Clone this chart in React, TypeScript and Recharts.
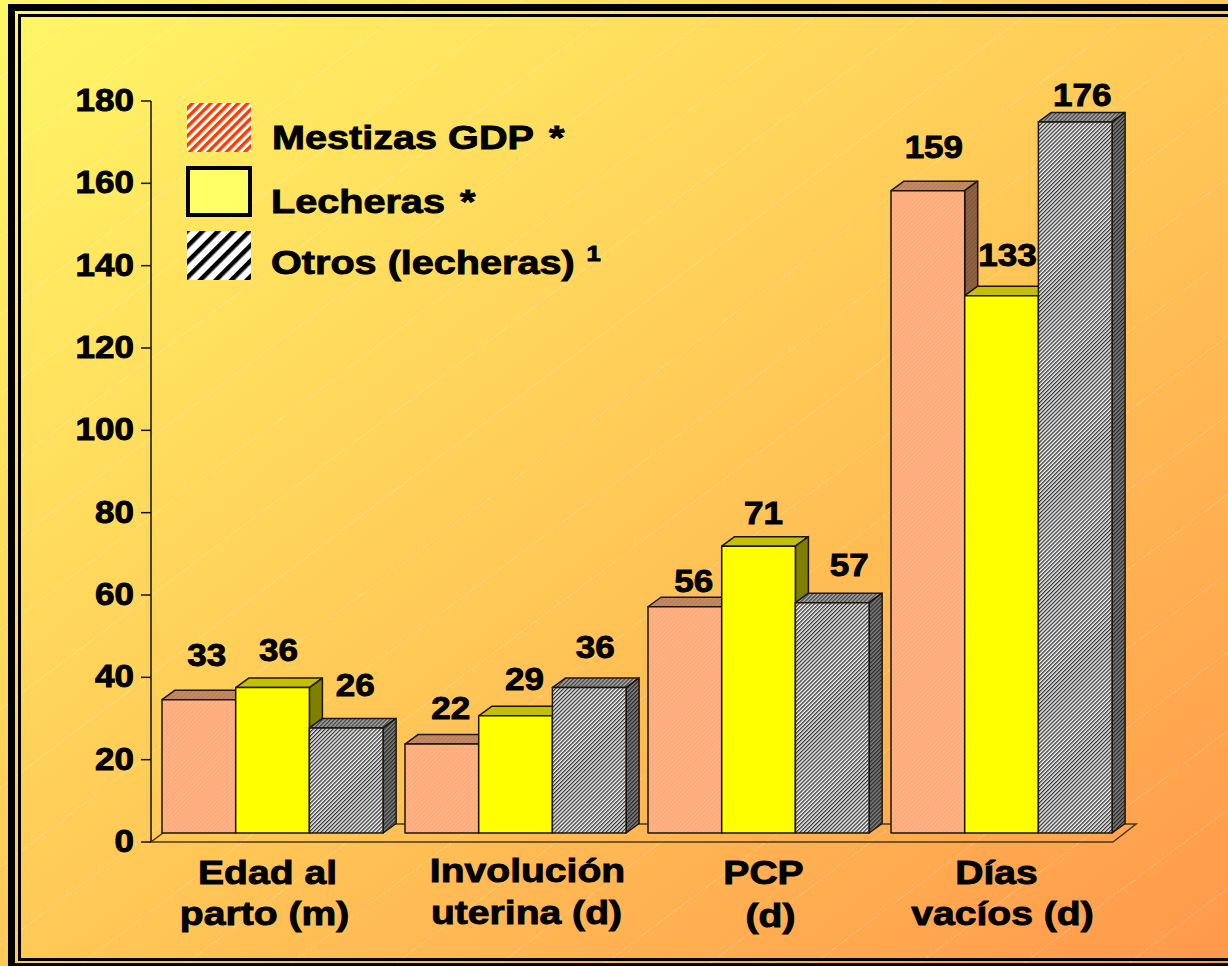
import { ComposedChart, Bar, Line, XAxis, YAxis, LabelList, Legend, ReferenceArea } from "recharts";

const CATEGORIES = ["Edad al parto (m)", "Involución uterina (d)", "PCP (d)", "Días vacíos (d)"];
const CATEGORY_LINES = [
  ["Edad al", "parto (m)"],
  ["Involución", "uterina (d)"],
  ["PCP", "(d)"],
  ["Días", "vacíos (d)"],
];
const MESTIZAS = [33, 22, 56, 159];
const LECHERAS = [36, 29, 71, 133];
const OTROS = [26, 36, 57, 176];
const Y_TICKS = [0, 20, 40, 60, 80, 100, 120, 140, 160, 180];

// hand placed text boxes in the original slide: [dx from center, dy from bar top / axis]
const MESTIZAS_LABEL_POS = [[8, -44], [9, -36], [9, -25], [6, -43]];
const LECHERAS_LABEL_POS = [[6, -37], [9, -36], [5, -33], [6, -40]];
const OTROS_LABEL_POS = [[9, -42], [6, -40], [17, -37], [7, -26]];
const CATEGORY_LINE_POS = [
  [[-5, 884], [-8, 925]],
  [[12, 882], [11, 924]],
  [[5, 884], [12, 927]],
  [[-5, 884], [1, 925]],
];

const data = CATEGORIES.map((name, i) => ({
  name,
  mestizas: MESTIZAS[i],
  lecheras: LECHERAS[i],
  otros: OTROS[i],
}));

const FONT = "'Liberation Sans', Arial, sans-serif";
const DEPTH_X = 13;
const DEPTH_Y = 9.5;
const OUTLINE = "#1c1608";

const WideText = ({ x, y, size, scale, anchor = "middle", children }: any) => (
  <text
    transform={`translate(${x},${y}) scale(${scale},1)`}
    fontFamily={FONT}
    fontWeight="bold"
    fontSize={size}
    fill="#000"
    stroke="#000"
    strokeWidth={0.9}
    textAnchor={anchor}
    style={{ whiteSpace: "pre" }}
  >
    {children}
  </text>
);

const box3d = (front: string, top: string, side: string) => (props: any) => {
  const { x, y, width, height } = props;
  const r = x + width;
  const b = y + height;
  return (
    <g stroke={OUTLINE} strokeWidth={1.5} strokeLinejoin="round">
      <polygon
        points={`${x},${y} ${x + DEPTH_X},${y - DEPTH_Y} ${r + DEPTH_X},${y - DEPTH_Y} ${r},${y}`}
        fill={top}
      />
      <polygon
        points={`${r},${y} ${r + DEPTH_X},${y - DEPTH_Y} ${r + DEPTH_X},${b - DEPTH_Y} ${r},${b}`}
        fill={side}
      />
      <rect x={x} y={y} width={width} height={height} fill={front} />
    </g>
  );
};

const valueLabel = (positions: number[][]) => (props: any) => {
  const { x, y, width, value, index } = props;
  const [dx, dy] = positions[index];
  return (
    <WideText x={x + width / 2 + dx} y={y + dy + 10.5} size={31} scale={1.13}>
      {value}
    </WideText>
  );
};

const YTick = ({ y, payload }: any) => (
  <WideText x={134} y={y + 10} size={31} scale={1.13} anchor="end">
    {payload.value}
  </WideText>
);

const XTick = ({ x, index }: any) => (
  <g>
    {CATEGORY_LINES[index].map((line, i) => (
      <WideText key={line} x={x + CATEGORY_LINE_POS[index][i][0]} y={CATEGORY_LINE_POS[index][i][1]} size={34} scale={1.15}>
        {line}
      </WideText>
    ))}
  </g>
);

const Floor = ({ x, y, width, height }: any) => (
  <polygon
    points={`${x},${y + height} ${x + width - 10},${y + height} ${x + width + 13},${y} ${x + 24},${y}`}
    fill="none"
    stroke="#4a3a14"
    strokeWidth={1.5}
  />
);

const LegendBox = () => (
  <svg width={460} height={200} style={{ display: "block" }}>
    <defs>
      <pattern id="legendRed" width={6.5} height={6.5} patternUnits="userSpaceOnUse" patternTransform="rotate(45)">
        <rect width={6.5} height={6.5} fill="#fff" />
        <rect width={3.4} height={6.5} fill="#ff3c00" />
      </pattern>
      <pattern id="legendBlack" width={11} height={11} patternUnits="userSpaceOnUse" patternTransform="rotate(45)">
        <rect width={11} height={11} fill="#fff" />
        <rect width={4.5} height={11} fill="#000" />
      </pattern>
    </defs>
    <rect x={7} y={8} width={64} height={49} fill="url(#legendRed)" />
    <rect x={8} y={73} width={62} height={47} fill="#ffff66" stroke="#000" strokeWidth={4} />
    <rect x={7} y={136} width={64} height={49} fill="url(#legendBlack)" />
    <WideText x={92} y={54} size={34} scale={1.165} anchor="start">
      Mestizas GDP
      <tspan dx={13}>*</tspan>
    </WideText>
    <WideText x={91} y={118} size={34} scale={1.165} anchor="start">
      Lecheras
      <tspan dx={13}>*</tspan>
    </WideText>
    <WideText x={91} y={179} size={34} scale={1.165} anchor="start">
      Otros (lecheras)
      <tspan fontSize={22} dx={10} dy={-13}>1</tspan>
    </WideText>
  </svg>
);

const frameBar = (left: number, top: number, width: number | string, height: number | string) => (
  <div style={{ position: "absolute", left, top, width, height, background: "#000" }} />
);

export default function App() {
  return (
    <div
      style={{
        position: "fixed",
        left: 0,
        top: 0,
        width: 1228,
        height: 966,
        overflow: "hidden",
        background:
          "repeating-linear-gradient(143deg, rgba(255,255,255,0) 0px, rgba(255,255,255,0) 62px, rgba(255,255,255,0.18) 62px, rgba(255,255,255,0.18) 63px), linear-gradient(143deg, #fff766 0%, #ffc857 52%, #ff984c 100%)",
      }}
    >
      {frameBar(8, 4, 1220, 7)}
      {frameBar(8, 4, 7, 962)}
      {frameBar(18, 14, 1210, 2.5)}
      {frameBar(18, 14, 2.5, 946)}
      {frameBar(18, 958, 1210, 3)}
      {frameBar(8, 963, 1220, 3)}
      <div style={{ position: "absolute", left: 0, top: 0 }}>
        <ComposedChart
          width={1228}
          height={966}
          data={data}
          barGap={0}
          barSize={73.7}
          margin={{ top: 101, right: 105, bottom: 0, left: 0 }}
        >
          <defs>
            <pattern id="salmonFill" width={3} height={3} patternUnits="userSpaceOnUse" patternTransform="rotate(45)">
              <rect width={3} height={3} fill="#ffb385" />
              <rect width={1} height={3} fill="#ffa679" />
            </pattern>
            <pattern id="salmonTop" width={3} height={3} patternUnits="userSpaceOnUse" patternTransform="rotate(45)">
              <rect width={3} height={3} fill="#c48a64" />
              <rect width={1} height={3} fill="#b87d5a" />
            </pattern>
            <pattern id="salmonSide" width={3} height={3} patternUnits="userSpaceOnUse" patternTransform="rotate(45)">
              <rect width={3} height={3} fill="#8f6244" />
              <rect width={1} height={3} fill="#7f553a" />
            </pattern>
            <pattern id="greyFill" width={2.8} height={2.8} patternUnits="userSpaceOnUse" patternTransform="rotate(45)">
              <rect width={2.8} height={2.8} fill="#f5f5f5" />
              <rect width={1.3} height={2.8} fill="#333" />
            </pattern>
            <pattern id="greyTop" width={2.8} height={2.8} patternUnits="userSpaceOnUse" patternTransform="rotate(45)">
              <rect width={2.8} height={2.8} fill="#a8a8a8" />
              <rect width={1.3} height={2.8} fill="#444" />
            </pattern>
            <pattern id="greySide" width={2.8} height={2.8} patternUnits="userSpaceOnUse" patternTransform="rotate(45)">
              <rect width={2.8} height={2.8} fill="#808080" />
              <rect width={1.3} height={2.8} fill="#2a2a2a" />
            </pattern>
          </defs>
          <XAxis dataKey="name" axisLine={false} tickLine={false} height={124} interval={0} tick={<XTick />} />
          <YAxis
            yAxisId="left"
            width={151}
            domain={[0, 180]}
            ticks={Y_TICKS}
            interval={0}
            tickSize={10}
            axisLine={{ stroke: "#111", strokeWidth: 1.5 }}
            tickLine={{ stroke: "#111", strokeWidth: 1.5 }}
            tick={<YTick />}
          />
          {/* bars stand on the raised floor, so they get their own slightly shifted scale */}
          <YAxis yAxisId="bars" hide width={0} domain={[-2.228, 181.19]} allowDataOverflow />
          <ReferenceArea yAxisId="bars" y1={-2.228} y2={2.228} shape={<Floor />} />
          {/* invisible series so the visible left axis has something bound to it */}
          <Line
            yAxisId="left"
            dataKey="otros"
            stroke="none"
            dot={false}
            legendType="none"
            isAnimationActive={false}
          />
          <Bar
            yAxisId="bars"
            dataKey="mestizas"
            name="Mestizas GDP *"
            isAnimationActive={false}
            shape={box3d("url(#salmonFill)", "url(#salmonTop)", "url(#salmonSide)")}
          >
            <LabelList dataKey="mestizas" content={valueLabel(MESTIZAS_LABEL_POS)} />
          </Bar>
          <Bar
            yAxisId="bars"
            dataKey="lecheras"
            name="Lecheras *"
            isAnimationActive={false}
            shape={box3d("#ffff00", "#c4c000", "#808000")}
          >
            <LabelList dataKey="lecheras" content={valueLabel(LECHERAS_LABEL_POS)} />
          </Bar>
          <Bar
            yAxisId="bars"
            dataKey="otros"
            name="Otros (lecheras)"
            isAnimationActive={false}
            shape={box3d("url(#greyFill)", "url(#greyTop)", "url(#greySide)")}
          >
            <LabelList dataKey="otros" content={valueLabel(OTROS_LABEL_POS)} />
          </Bar>
          <Legend
            layout="vertical"
            align="center"
            verticalAlign="middle"
            content={<LegendBox />}
            wrapperStyle={{ left: 180, top: 95, width: 460, height: 200, margin: 0 }}
          />
        </ComposedChart>
      </div>
    </div>
  );
}
